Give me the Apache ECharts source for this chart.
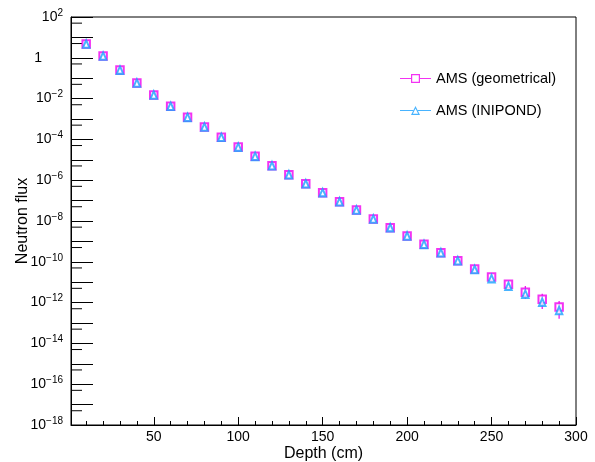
<!DOCTYPE html>
<html>
<head>
<meta charset="utf-8">
<script src="https://cdn.jsdelivr.net/npm/echarts@6/dist/echarts.min.js"></script>
<style>
html,body{margin:0;padding:0;background:#fff;}
#chart{width:595px;height:462px;}
</style>
</head>
<body>
<div id="chart"></div>
<script>
// ---- data ----
var depth = [10,20,30,40,50,60,70,80,90,100,110,120,130,140,150,160,170,180,190,200,210,220,230,240,250,260,270,280,290];
var fluxGeometrical = [4.75,1.22,0.25,0.058,0.015,4.2e-3,1.21e-3,4.05e-4,1.27e-4,4.2e-5,1.48e-5,5.1e-6,1.86e-6,6.7e-7,2.44e-7,8.8e-8,3.46e-8,1.25e-8,4.7e-9,1.84e-9,7.2e-10,2.79e-10,1.13e-10,4.4e-11,1.8e-11,7.9e-12,3.2e-12,1.45e-12,6.1e-13];
var fluxInipond = [4.75,1.22,0.25,0.058,0.015,4.2e-3,1.21e-3,4.05e-4,1.27e-4,4.2e-5,1.48e-5,5.1e-6,1.86e-6,6.7e-7,2.44e-7,8.8e-8,3.46e-8,1.25e-8,4.7e-9,1.84e-9,7.2e-10,2.79e-10,1.13e-10,4.2e-11,1.5e-11,6.3e-12,2.6e-12,1.05e-12,4.1e-13];
// error bars (depth, low, high)
var errDepth = [270,280,290];
var errLow = [1.55e-12,4.8e-13,1.6e-13];
var errHigh = [6.5e-12,2.75e-12,1.2e-12];
// y-axis minor tick values (5 x 10^n)
var yMinorTicks = [5e1,5e0,5e-1,5e-2,5e-3,5e-4,5e-5,5e-6,5e-7,5e-8,5e-9,5e-10,5e-11,5e-12,5e-13,5e-14,5e-15,5e-16,5e-17,5e-18];
var seriesNames = ['AMS (geometrical)','AMS (INIPOND)'];
var xTitle = 'Depth (cm)';
var yTitle = 'Neutron flux';
var xMin = 1, xMax = 300, yMin = 1e-18, yMax = 100;

var MAG = '#f000f0';
var BLUE = '#1aa0ff';
var FONT = '"Liberation Sans", Arial, Helvetica, sans-serif';

var chart = echarts.init(document.getElementById('chart'), null, {renderer:'canvas'});

function pairs(xs, ys){ return xs.map(function(x,i){ return [x, ys[i]]; }); }

function expLabel(v){
  var e = Math.round(Math.log(v)/Math.LN10);
  if (e % 2 !== 0) return '';
  if (e === 0) return '{one|1}';
  var s = String(e).replace('-', '\u2212');
  return '{b|10}{s|' + s + '}';
}

var squareIcon = 'path://M0 4.6H11V5.4H0Z M20 4.6H31V5.4H20Z M11 0.5H20V9.5H11Z M12.2 1.7V8.3H18.8V1.7Z';
var triIcon = 'path://M0 4.6H13.2V5.4H0Z M17.8 4.6H31V5.4H17.8Z M15.5 0.5L20 9.5L11 9.5Z M15.5 3L12.9 8.3L18.1 8.3Z';

var option = {
  animation: false,
  backgroundColor: '#fff',
  textStyle: {fontFamily: FONT},
  grid: {left: 71, right: 19, top: 17, bottom: 37, outerBoundsMode: 'none', containLabel: false,
         show: true, borderColor: '#000', borderWidth: 1, backgroundColor: 'transparent'},
  legend: {
    orient: 'vertical', left: 400, top: 71, padding: 0, itemWidth: 31, itemHeight: 10, itemGap: 17,
    itemStyle: {borderWidth: 0},
    textStyle: {fontFamily: FONT, fontSize: 14.5, color: '#000'},
    data: [
      {name: seriesNames[0], icon: squareIcon, itemStyle: {color: MAG, borderWidth: 0}},
      {name: seriesNames[1], icon: triIcon, itemStyle: {color: BLUE, borderWidth: 0}}
    ]
  },
  xAxis: {
    type: 'value', min: xMin, max: xMax, splitNumber: 6,
    name: xTitle, nameLocation: 'middle', nameGap: 21, nameMoveOverlap: false,
    nameTextStyle: {fontFamily: FONT, fontSize: 16, color: '#000'},
    axisLine: {lineStyle: {color: '#000', width: 1}},
    axisTick: {inside: true, length: 8, lineStyle: {color: '#000'}},
    minorTick: {show: true, splitNumber: 5, length: 4, lineStyle: {color: '#000'}},
    axisLabel: {showMinLabel: false, fontFamily: FONT, fontSize: 14, color: '#000', margin: 5},
    splitLine: {show: false}
  },
  yAxis: {
    type: 'log', logBase: 10, min: yMin, max: yMax, interval: 1,
    name: yTitle, nameLocation: 'middle', nameGap: 40, nameMoveOverlap: false,
    nameTextStyle: {fontFamily: FONT, fontSize: 16, color: '#000'},
    axisLine: {lineStyle: {color: '#000', width: 1}},
    axisTick: {inside: true, length: 22, lineStyle: {color: '#000'}},
    minorTick: {show: false},
    axisLabel: {
      fontFamily: FONT, color: '#000', margin: 8,
      formatter: expLabel,
      rich: {
        b: {fontFamily: FONT, fontSize: 14, color: '#000'},
        s: {fontFamily: FONT, fontSize: 10, color: '#000', padding: [0,0,8,0]},
        one: {fontFamily: FONT, fontSize: 14, color: '#000', padding: [0,21,0,0]}
      }
    },
    splitLine: {show: false}
  },
  series: [
    {
      type: 'custom', name: 'minorTicks', silent: true, z: 0, clip: false,
      data: yMinorTicks.map(function(v){ return [xMin, v]; }),
      renderItem: function(params, api){
        var p = api.coord([api.value(0), api.value(1)]);
        return {type: 'line', shape: {x1: p[0], y1: p[1], x2: p[0] + 11, y2: p[1]}, style: {stroke: '#000', lineWidth: 1}};
      }
    },
    {
      type: 'custom', name: 'err', silent: true, z: 1,
      data: errDepth.map(function(x,i){ return [x, errLow[i], errHigh[i]]; }),
      renderItem: function(params, api){
        var p1 = api.coord([api.value(0), api.value(1)]);
        var p2 = api.coord([api.value(0), api.value(2)]);
        return {type: 'line', shape: {x1: p1[0], y1: p1[1], x2: p2[0], y2: p2[1]}, style: {stroke: MAG, lineWidth: 1.2}};
      }
    },
    {
      type: 'scatter', name: seriesNames[0], z: 3,
      symbol: 'emptyRect', symbolSize: 7.5,
      itemStyle: {color: MAG, borderColor: MAG, borderWidth: 1.2},
      data: pairs(depth, fluxGeometrical)
    },
    {
      type: 'scatter', name: seriesNames[1], z: 4,
      symbol: 'emptyTriangle', symbolSize: [6.5, 7.5],
      itemStyle: {color: BLUE, borderColor: BLUE, borderWidth: 1.2},
      data: pairs(depth, fluxInipond)
    }
  ]
};
chart.setOption(option);
</script>
</body>
</html>
